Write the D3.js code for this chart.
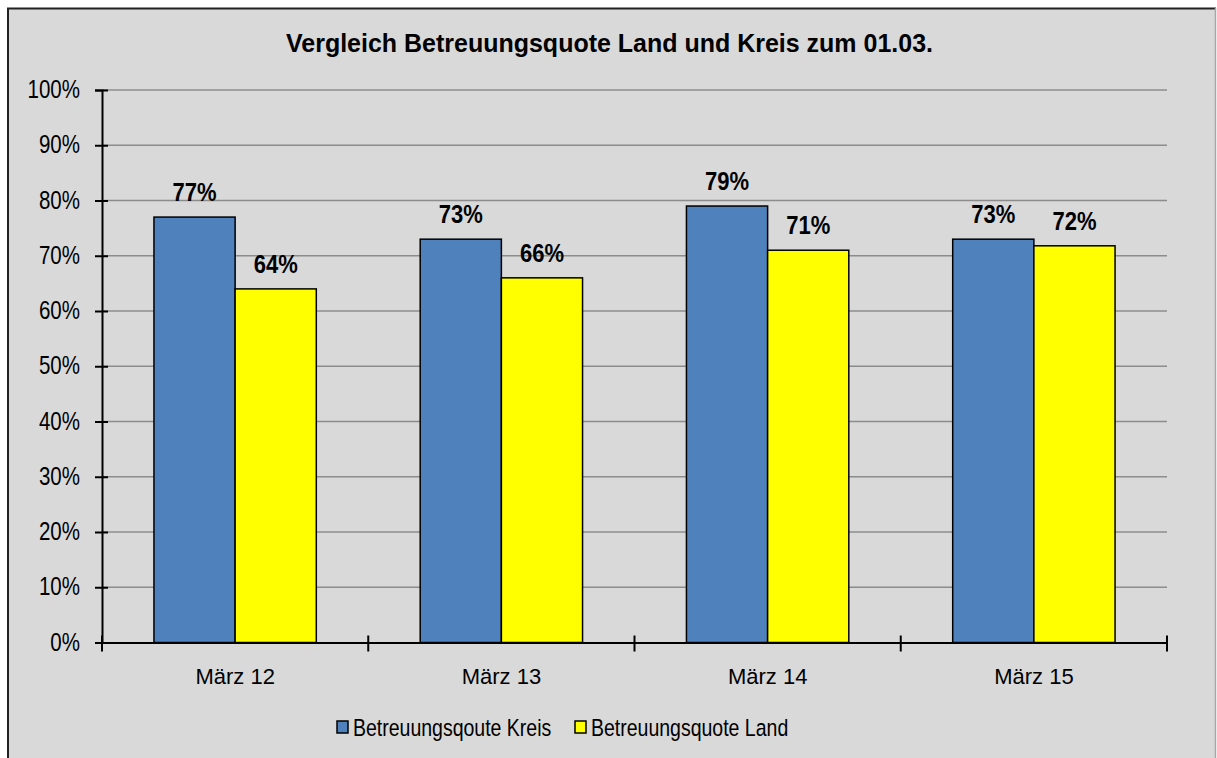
<!DOCTYPE html>
<html><head><meta charset="utf-8">
<script src="https://cdn.jsdelivr.net/npm/d3@7"></script>
<style>
html,body{margin:0;padding:0;background:#fff;}
text{font-family:"Liberation Sans",Arial,sans-serif;fill:#000;}
</style></head>
<body>
<svg id="chart" width="1217" height="758"></svg>
<script>
const categories = ["März 12", "März 13", "März 14", "März 15"];
const seriesNames = ["Betreuungsqoute Kreis", "Betreuungsquote Land"];
const kreisValues = [0.77, 0.73, 0.79, 0.73];
const landValues = [0.64, 0.66, 0.71, 0.718];
const yTicks = [0, 0.1, 0.2, 0.3, 0.4, 0.5, 0.6, 0.7, 0.8, 0.9, 1.0];
const titleText = "Vergleich  Betreuungsquote Land und Kreis zum 01.03.";
const colors = ["#4f81bd", "#ffff00"];

(function () {
const svg = d3.select("#chart");
svg.append("rect").attr("x",0).attr("y",0).attr("width",1217).attr("height",758).attr("fill","#fff");
svg.append("rect").attr("x",8).attr("y",8.5).attr("width",1207.5).attr("height",760)
  .attr("fill","#d9d9d9").attr("stroke","none");
svg.append("line").attr("x1",7).attr("x2",1216).attr("y1",8.5).attr("y2",8.5).attr("stroke","#222").attr("stroke-width",2);
svg.append("line").attr("x1",8).attr("x2",8).attr("y1",8).attr("y2",758).attr("stroke","#222").attr("stroke-width",2);
svg.append("line").attr("x1",1215.5).attr("x2",1215.5).attr("y1",8).attr("y2",758).attr("stroke","#a6a6a6").attr("stroke-width",1.5);

const pLeft = 102, pRight = 1167, pTop = 90, pBottom = 642.5;
const y = d3.scaleLinear().domain([0,1]).range([pBottom, pTop]);
const x0 = d3.scaleBand().domain(categories).range([pLeft, pRight]).padding(0);
const x1 = d3.scaleBand().domain(seriesNames).range([0, x0.bandwidth()]).paddingInner(0).paddingOuter(0.64);

function scaledText(g, xPos, yPos, str, size, sx, anchor, weight) {
  return g.append("text")
    .attr("transform", `translate(${xPos},${yPos}) scale(${sx},1)`)
    .attr("text-anchor", anchor)
    .attr("font-size", size)
    .attr("font-weight", weight || "normal")
    .text(str);
}

svg.append("text").attr("x", 609.5).attr("y", 52).attr("text-anchor","middle")
  .attr("font-size", 25).attr("font-weight","bold")
  .attr("textLength", 647).attr("lengthAdjust","spacingAndGlyphs")
  .text(titleText);

svg.append("g").selectAll("line").data(yTicks.filter(d => d > 0)).join("line")
  .attr("x1", pLeft).attr("x2", pRight).attr("y1", d => y(d)).attr("y2", d => y(d))
  .attr("stroke", "#8c8c8c").attr("stroke-width", 1.5);

const data = categories.map((c, i) => ({cat: c, vals: [kreisValues[i], landValues[i]]}));
const groups = svg.append("g").selectAll("g").data(data).join("g")
  .attr("transform", d => `translate(${x0(d.cat)},0)`);
groups.selectAll("rect").data(d => d.vals.map((v, j) => ({name: seriesNames[j], v, j}))).join("rect")
  .attr("x", d => x1(d.name)).attr("width", x1.bandwidth())
  .attr("y", d => y(d.v)).attr("height", d => y(0) - y(d.v))
  .attr("fill", d => colors[d.j]).attr("stroke", "#000").attr("stroke-width", 1.5);
groups.each(function(d) {
  const g = d3.select(this);
  d.vals.forEach((v, j) => {
    scaledText(g, x1(seriesNames[j]) + x1.bandwidth()/2, y(v) - 16, Math.round(v*100) + "%", 25, 0.88, "middle", "bold");
  });
});

const yAxis = d3.axisLeft(y).tickValues(yTicks).tickSize(7).tickFormat("");
const yg = svg.append("g").attr("transform", `translate(${pLeft},0)`).call(yAxis);
yg.select(".domain").attr("stroke","#000").attr("stroke-width",2);
yg.selectAll(".tick line").attr("x1", 6).attr("stroke","#000").attr("stroke-width",2);
yTicks.forEach(t => scaledText(svg, 80, y(t) + 8, Math.round(t*100) + "%", 25, 0.82, "end"));

const xAxis = d3.axisBottom(x0).tickSize(0).tickFormat("");
const xg = svg.append("g").attr("transform", `translate(0,${pBottom})`).call(xAxis);
xg.select(".domain").attr("stroke","#000").attr("stroke-width",2);
const bounds = categories.map(c => x0(c)).concat([x0(categories[categories.length-1]) + x0.bandwidth()]);
svg.append("g").selectAll("line").data(bounds).join("line")
  .attr("x1", d => d).attr("x2", d => d).attr("y1", pBottom - 7).attr("y2", pBottom + 9)
  .attr("stroke","#000").attr("stroke-width",2);
categories.forEach(c => scaledText(svg, x0(c) + x0.bandwidth()/2, 684, c, 22, 1.0, "middle"));

const legendX = [337, 575];
seriesNames.forEach((n, i) => {
  svg.append("rect").attr("x", legendX[i]).attr("y", 721).attr("width", 11).attr("height", 12)
    .attr("fill", colors[i]).attr("stroke","#000").attr("stroke-width",1.5);
  scaledText(svg, legendX[i] + 16, 736, n, 23.5, 0.83, "start");
});
})();
</script>
</body></html>
